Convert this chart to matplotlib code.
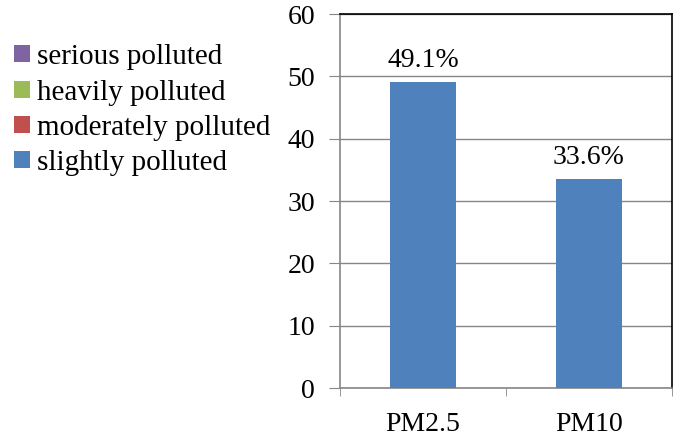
import matplotlib.pyplot as plt
import numpy as np

plt.rcParams["font.family"] = "Liberation Serif"
plt.rcParams["font.size"] = 20

categories = ["PM2.5", "PM10"]
series_names = ["slightly polluted", "moderately polluted", "heavily polluted", "serious polluted"]
series_values = [
    [49.1, 33.6],
    [0.0, 0.0],
    [0.0, 0.0],
    [0.0, 0.0],
]
series_colors = ["#4F81BD", "#C0504D", "#9BBB59", "#8064A2"]
bar_labels = ["49.1%", "33.6%"]
y_ticks = [0, 10, 20, 30, 40, 50, 60]

fig = plt.figure(figsize=(6.93, 4.40), dpi=100)
ax = fig.add_axes([340 / 693, 1 - 388 / 440, 332 / 693, 374 / 440])

x = np.arange(len(categories))
bottom = np.zeros(len(categories))
handles = []
for name, vals, color in zip(series_names, series_values, series_colors):
    b = ax.bar(x, vals, width=0.4, bottom=bottom, color=color, label=name, zorder=3)
    handles.append(b)
    bottom += np.array(vals)

for xi, total, lab in zip(x, bottom, bar_labels):
    ax.text(xi, total + 1.4, lab, ha="center", va="bottom", fontsize=20)

ax.set_xlim(-0.5, len(categories) - 0.5)
ax.set_ylim(0, 60)
ax.set_yticks(y_ticks)
ax.set_xticks(x)
ax.set_xticklabels(categories)
ax.set_xticks([-0.5, 0.5, 1.5], minor=True)
ax.tick_params(axis="x", which="major", length=0, pad=17)
ax.tick_params(axis="x", which="minor", length=6, color="#868686", direction="out")
ax.tick_params(axis="y", length=8, color="#868686", direction="out", pad=10)
ax.tick_params(labelsize=20)
ax.grid(axis="y", color="#868686", linewidth=1, zorder=0)

for side in ["top", "right"]:
    ax.spines[side].set_color("black")
    ax.spines[side].set_linewidth(1.2)
for side in ["left", "bottom"]:
    ax.spines[side].set_color("#868686")
    ax.spines[side].set_linewidth(1.2)

fig.legend(handles[::-1], series_names[::-1], loc="upper left",
           bbox_to_anchor=(-9 / 693, 1 - 21 / 440), frameon=False,
           handlelength=0.52, handleheight=0.52, handletextpad=0.25,
           labelspacing=0.32, fontsize=21, borderpad=0.3)

fig.savefig("out.png", dpi=100)
